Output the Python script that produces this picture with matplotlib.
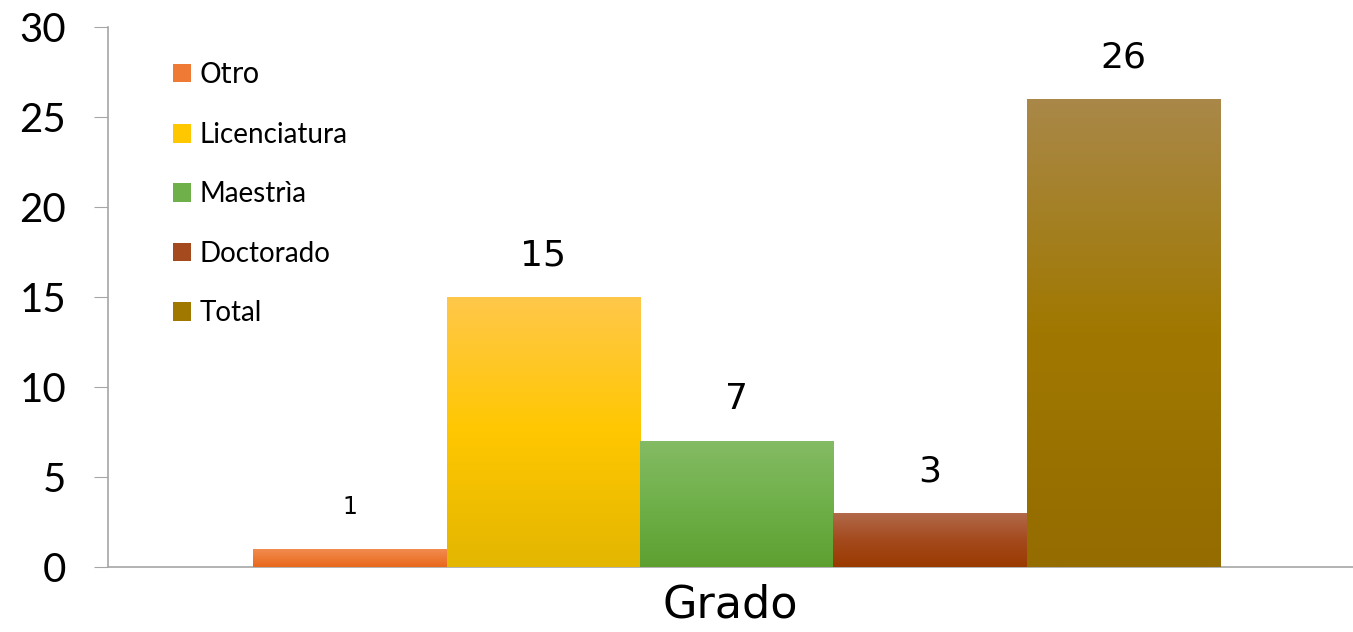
import numpy as np
import matplotlib
matplotlib.use("Agg")
import matplotlib.pyplot as plt
from matplotlib.colors import LinearSegmentedColormap
from matplotlib.patches import Patch

# data
categories = ["Otro", "Licenciatura", "Maestrìa", "Doctorado", "Total"]
values = [1, 15, 7, 3, 26]
group_label = "Grado"

# gradient colours (top, middle, bottom) per series
grad_colors = [
    ["#F28D52", "#EE7A35", "#E8681C"],
    ["#FFC84A", "#FFC700", "#E3B600"],
    ["#84BB64", "#70B04A", "#5EA030"],
    ["#B26B4C", "#A44A1E", "#9A3A00"],
    ["#A98849", "#A07800", "#946C00"],
]
label_sizes = [17, 26, 26, 26, 26]

fig = plt.figure(figsize=(13.53, 6.32), dpi=100)
ax = fig.add_axes([0.0798, 0.1028, 0.9202, 0.8545])

width = 0.1553
offsets = (np.arange(len(values)) - 2) * width + 0.005
bars = ax.bar(offsets, values, width=width, color=[c[1] for c in grad_colors],
              linewidth=0, zorder=2)

# vertical gradients clipped to each bar
for bar, cols in zip(bars, grad_colors):
    cmap = LinearSegmentedColormap.from_list("g", cols[::-1])
    grad = np.linspace(0, 1, 256).reshape(-1, 1)
    x0, y0 = bar.get_x(), bar.get_y()
    im = ax.imshow(grad, cmap=cmap, origin="lower", aspect="auto",
                   extent=[x0, x0 + bar.get_width(), y0, y0 + bar.get_height()],
                   zorder=3)
    im.set_clip_path(bar)
ax.set_xlim(-0.5, 0.5)
ax.set_ylim(0, 30)

for bar, v, fs in zip(bars, values, label_sizes):
    ax.annotate(str(v), (bar.get_x() + bar.get_width() / 2, bar.get_height()),
                xytext=(0, 30), textcoords="offset points", ha="center",
                va="center", fontsize=fs, family="DejaVu Sans")

ax.set_yticks(range(0, 31, 5))
ax.tick_params(axis="y", labelsize=29, length=10, color="#A6A6A6", pad=20)
for lbl in ax.get_yticklabels():
    lbl.set_family("Lato")
ax.set_xticks([0])
ax.set_xticklabels([group_label], fontsize=32, family="DejaVu Sans")
ax.tick_params(axis="x", length=0, pad=12)

for s in ["top", "right"]:
    ax.spines[s].set_visible(False)
for s in ["left", "bottom"]:
    ax.spines[s].set_color("#A6A6A6")
    ax.spines[s].set_linewidth(1.2)

handles = [Patch(facecolor=c[1], edgecolor="none") for c in grad_colors]
leg = ax.legend(handles, categories, loc="upper left",
                bbox_to_anchor=(0.0436, 0.958), frameon=False,
                prop={"family": "Lato", "size": 20},
                handlelength=0.65, handleheight=0.65, handletextpad=0.3,
                labelspacing=1.2, borderaxespad=0)
leg.get_texts()[0].set_family("DejaVu Sans")

fig.savefig("out.png", dpi=100)
